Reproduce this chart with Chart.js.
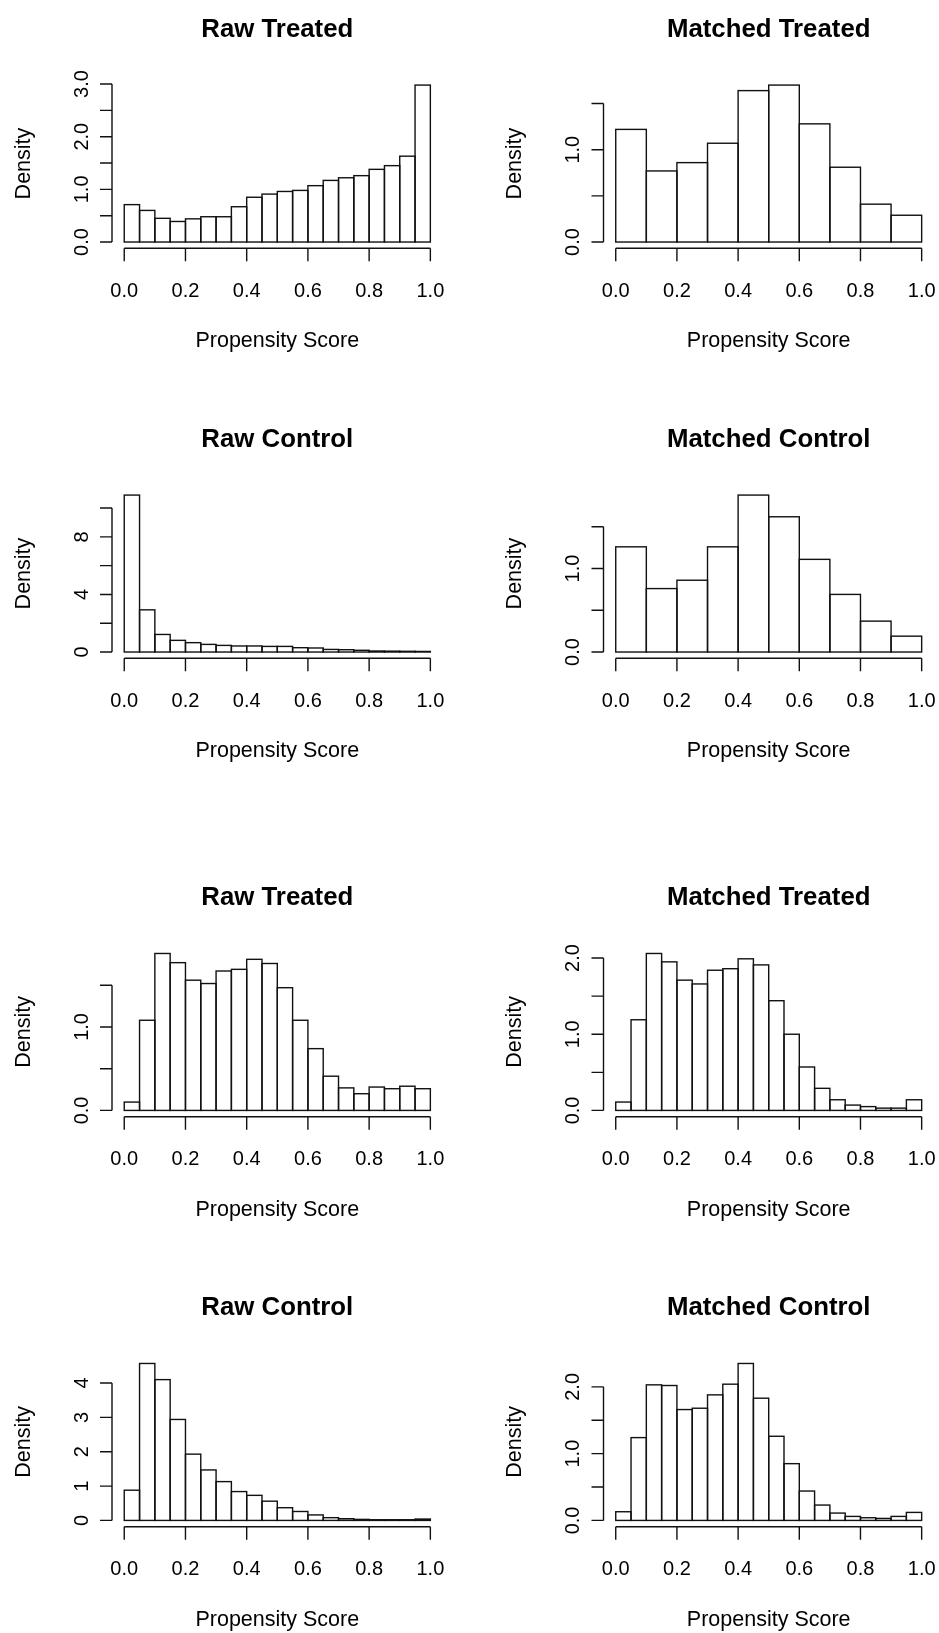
<!DOCTYPE html>
<html>
<head>
<meta charset="utf-8">
<title>Propensity Score Histograms</title>
<script src="https://cdn.jsdelivr.net/npm/chart.js@4.4.1/dist/chart.umd.min.js"></script>
<style>
  html, body { margin: 0; padding: 0; background: #fff; }
  #page { position: relative; width: 939px; height: 1633px; overflow: hidden; background: #fff; }
  .cell { position: absolute; }
  .cell canvas { display: block; }
</style>
</head>
<body>
<div id="page"></div>
<script>
// ---- histogram bin breaks ----
const breaks20 = [0, 0.05, 0.1, 0.15, 0.2, 0.25, 0.3, 0.35, 0.4, 0.45, 0.5,
                  0.55, 0.6, 0.65, 0.7, 0.75, 0.8, 0.85, 0.9, 0.95, 1.0];
const breaks10 = [0, 0.1, 0.2, 0.3, 0.4, 0.5, 0.6, 0.7, 0.8, 0.9, 1.0];

// ---- x axis ticks (shared) ----
const xTickValues = [0, 0.2, 0.4, 0.6, 0.8, 1.0];
const xTickLabels = ['0.0', '0.2', '0.4', '0.6', '0.8', '1.0'];

// ---- text ----
const xAxisTitle = 'Propensity Score';
const yAxisTitle = 'Density';
const panelTitles = ['Raw Treated', 'Matched Treated', 'Raw Control', 'Matched Control',
                     'Raw Treated', 'Matched Treated', 'Raw Control', 'Matched Control'];

// ---- densities, first model ----
const rawTreatedA = [0.71, 0.60, 0.45, 0.39, 0.44, 0.48, 0.48, 0.67, 0.85, 0.91,
                     0.96, 0.98, 1.07, 1.17, 1.22, 1.26, 1.38, 1.45, 1.63, 2.98];
const matchedTreatedA = [1.22, 0.77, 0.86, 1.07, 1.64, 1.70, 1.28, 0.81, 0.41, 0.29];
const rawControlA = [10.9, 2.93, 1.22, 0.81, 0.65, 0.53, 0.46, 0.42, 0.42, 0.39,
                     0.39, 0.30, 0.28, 0.18, 0.16, 0.12, 0.07, 0.06, 0.05, 0.04];
const matchedControlA = [1.26, 0.76, 0.86, 1.26, 1.88, 1.62, 1.11, 0.69, 0.37, 0.19];

// ---- densities, second model ----
const rawTreatedB = [0.10, 1.08, 1.88, 1.77, 1.56, 1.52, 1.67, 1.69, 1.81, 1.76,
                     1.47, 1.08, 0.74, 0.41, 0.27, 0.20, 0.28, 0.26, 0.29, 0.26];
const matchedTreatedB = [0.11, 1.19, 2.06, 1.95, 1.71, 1.66, 1.84, 1.86, 1.99, 1.91,
                         1.44, 1.00, 0.57, 0.29, 0.14, 0.07, 0.05, 0.03, 0.03, 0.14];
const rawControlB = [0.88, 4.57, 4.10, 2.94, 1.93, 1.47, 1.13, 0.84, 0.73, 0.56,
                     0.37, 0.26, 0.16, 0.08, 0.05, 0.03, 0.02, 0.02, 0.02, 0.04];
const matchedControlB = [0.13, 1.24, 2.03, 2.02, 1.66, 1.68, 1.88, 2.04, 2.35, 1.83,
                         1.26, 0.85, 0.44, 0.23, 0.11, 0.06, 0.04, 0.03, 0.06, 0.12];

// ---- y axis ticks per panel ('' = tick without a label) ----
const yTicksHalf3 = [0, 0.5, 1, 1.5, 2, 2.5, 3];
const yLabelsHalf3 = ['0.0', '', '1.0', '', '2.0', '', '3.0'];
const yTicksHalf15 = [0, 0.5, 1, 1.5];
const yLabelsHalf15 = ['0.0', '', '1.0', ''];
const yTicksHalf2 = [0, 0.5, 1, 1.5, 2];
const yLabelsHalf2 = ['0.0', '', '1.0', '', '2.0'];
const yTicksEven10 = [0, 2, 4, 6, 8, 10];
const yLabelsEven10 = ['0', '', '4', '', '8', ''];
const yTicksOne4 = [0, 1, 2, 3, 4];
const yLabelsOne4 = ['0', '1', '2', '3', '4'];

// ---- page layout (plot regions in page pixels) ----
const colEdges = [0, 470, 939];
const rowEdges = [0, 400, 830, 1230, 1633];
const plotLeft = [112.0, 603.5];
const plotRight = [442.6, 933.9];
const plotTop = [78.8, 488.8, 947.2, 1357.2];
const plotBottom = [248.3, 658.3, 1116.7, 1526.7];

const FONT = '"Liberation Sans", Arial, Helvetica, sans-serif';
const INK = '#111';

// R-style axes, outlines and annotations drawn from the chart scales
const rStyle = {
  id: 'rStyle',
  afterDatasetsDraw(chart) {
    const ctx = chart.ctx;
    const meta = chart.getDatasetMeta(0);
    ctx.save();
    ctx.strokeStyle = INK;
    ctx.lineWidth = 1.4;
    meta.data.forEach(bar => {
      const p = bar.getProps(['x', 'y', 'base', 'width'], true);
      const l = p.x - p.width / 2;
      ctx.strokeRect(l, Math.min(p.y, p.base), p.width, Math.abs(p.base - p.y));
    });
    ctx.restore();
  },
  afterDraw(chart, args, opts) {
    const { ctx, chartArea: a } = chart;
    const xs = chart.scales.x, ys = chart.scales.y;
    ctx.save();
    ctx.strokeStyle = INK;
    ctx.fillStyle = '#000';
    ctx.lineWidth = 1.4;

    // x axis: line from first to last tick along the plot bottom
    const xFirst = xs.getPixelForValue(xTickValues[0]);
    const xLast = xs.getPixelForValue(xTickValues[xTickValues.length - 1]);
    ctx.beginPath();
    ctx.moveTo(xFirst, a.bottom);
    ctx.lineTo(xLast, a.bottom);
    xTickValues.forEach(v => {
      const px = xs.getPixelForValue(v);
      ctx.moveTo(px, a.bottom);
      ctx.lineTo(px, a.bottom + 13);
    });
    // y axis: line from first to last tick along the plot left edge
    const yFirst = ys.getPixelForValue(opts.yTicks[0]);
    const yLast = ys.getPixelForValue(opts.yTicks[opts.yTicks.length - 1]);
    ctx.moveTo(a.left, yFirst);
    ctx.lineTo(a.left, yLast);
    opts.yTicks.forEach(v => {
      const py = ys.getPixelForValue(v);
      ctx.moveTo(a.left, py);
      ctx.lineTo(a.left - 12, py);
    });
    ctx.stroke();

    // tick labels
    ctx.font = '20px ' + FONT;
    ctx.textAlign = 'center';
    ctx.textBaseline = 'alphabetic';
    xTickValues.forEach((v, i) => {
      ctx.fillText(xTickLabels[i], xs.getPixelForValue(v), a.bottom + 48.5);
    });
    opts.yTicks.forEach((v, i) => {
      const label = opts.yLabels[i];
      if (!label) return;
      ctx.save();
      ctx.translate(a.left - 24.5, ys.getPixelForValue(v));
      ctx.rotate(-Math.PI / 2);
      ctx.fillText(label, 0, 0);
      ctx.restore();
    });

    // axis titles
    ctx.font = '21.5px ' + FONT;
    ctx.fillText(xAxisTitle, (a.left + a.right) / 2, a.bottom + 99);
    ctx.save();
    ctx.translate(a.left - 82.5, (a.top + a.bottom) / 2);
    ctx.rotate(-Math.PI / 2);
    ctx.fillText(yAxisTitle, 0, 0);
    ctx.restore();

    // panel title
    ctx.font = 'bold 25.8px ' + FONT;
    ctx.fillText(opts.title, (a.left + a.right) / 2, a.top - 42);
    ctx.restore();
  }
};

const panels = [
  { title: panelTitles[0], breaks: breaks20, values: rawTreatedA,     yTicks: yTicksHalf3,  yLabels: yLabelsHalf3,  row: 0, col: 0 },
  { title: panelTitles[1], breaks: breaks10, values: matchedTreatedA, yTicks: yTicksHalf15, yLabels: yLabelsHalf15, row: 0, col: 1 },
  { title: panelTitles[2], breaks: breaks20, values: rawControlA,     yTicks: yTicksEven10, yLabels: yLabelsEven10, row: 1, col: 0 },
  { title: panelTitles[3], breaks: breaks10, values: matchedControlA, yTicks: yTicksHalf15, yLabels: yLabelsHalf15, row: 1, col: 1 },
  { title: panelTitles[4], breaks: breaks20, values: rawTreatedB,     yTicks: yTicksHalf15, yLabels: yLabelsHalf15, row: 2, col: 0 },
  { title: panelTitles[5], breaks: breaks20, values: matchedTreatedB, yTicks: yTicksHalf2,  yLabels: yLabelsHalf2,  row: 2, col: 1 },
  { title: panelTitles[6], breaks: breaks20, values: rawControlB,     yTicks: yTicksOne4,   yLabels: yLabelsOne4,   row: 3, col: 0 },
  { title: panelTitles[7], breaks: breaks20, values: matchedControlB, yTicks: yTicksHalf2,  yLabels: yLabelsHalf2,  row: 3, col: 1 }
];

const page = document.getElementById('page');

panels.forEach(p => {
  const cx = colEdges[p.col], cw = colEdges[p.col + 1] - cx;
  const cy = rowEdges[p.row], ch = rowEdges[p.row + 1] - cy;
  const cell = document.createElement('div');
  cell.className = 'cell';
  cell.style.left = cx + 'px';
  cell.style.top = cy + 'px';
  cell.style.width = cw + 'px';
  cell.style.height = ch + 'px';
  const canvas = document.createElement('canvas');
  canvas.width = cw;
  canvas.height = ch;
  canvas.style.width = cw + 'px';
  canvas.style.height = ch + 'px';
  cell.appendChild(canvas);
  page.appendChild(cell);

  // bars sit at the centre of each bin
  const points = p.values.map((v, i) => ({ x: (p.breaks[i] + p.breaks[i + 1]) / 2, y: v }));
  const yMax = Math.max(...p.values);

  new Chart(canvas, {
    type: 'bar',
    data: {
      datasets: [{
        data: points,
        backgroundColor: '#ffffff',
        borderWidth: 0,
        barPercentage: 1,
        categoryPercentage: 1,
        inflateAmount: 0
      }]
    },
    options: {
      responsive: false,
      animation: false,
      devicePixelRatio: 1,
      events: [],
      layout: {
        padding: {
          left: plotLeft[p.col] - cx,
          right: cx + cw - plotRight[p.col],
          top: plotTop[p.row] - cy,
          bottom: cy + ch - plotBottom[p.row]
        }
      },
      scales: {
        x: {
          type: 'linear',
          display: false,
          offset: false,
          min: -0.04,
          max: 1.04,
          afterBuildTicks: scale => { scale.ticks = xTickValues.map(v => ({ value: v })); }
        },
        y: {
          type: 'linear',
          display: false,
          min: -0.04 * yMax,
          max: 1.04 * yMax,
          afterBuildTicks: scale => { scale.ticks = p.yTicks.map(v => ({ value: v })); }
        }
      },
      plugins: {
        legend: { display: false },
        title: { display: false },
        tooltip: { enabled: false },
        rStyle: { title: p.title, yTicks: p.yTicks, yLabels: p.yLabels }
      }
    },
    plugins: [rStyle]
  });
});
</script>
</body>
</html>
